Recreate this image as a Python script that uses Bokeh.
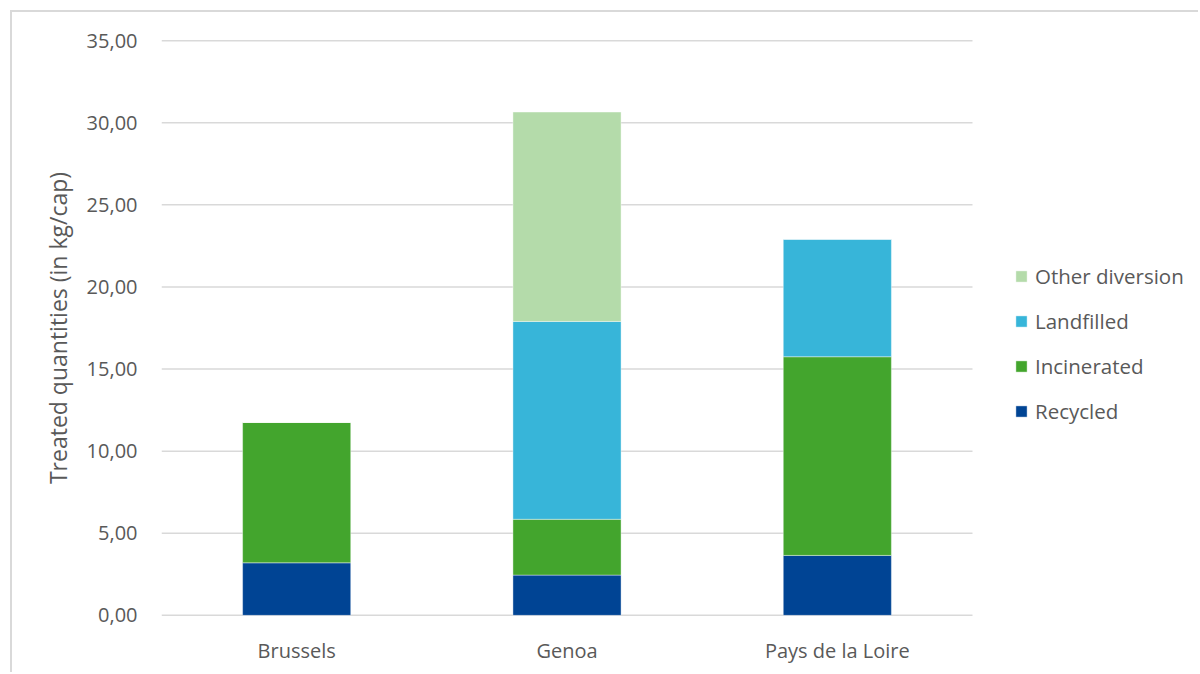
from bokeh.plotting import figure
from bokeh.models import ColumnDataSource, Range1d, Legend, LegendItem, CustomJSTickFormatter, FixedTicker
from bokeh.embed import file_html
from bokeh.resources import INLINE

cities = ["Brussels", "Genoa", "Pays de la Loire"]
recycled = [3.20, 2.45, 3.65]
incinerated = [8.55, 3.40, 12.10]
landfilled = [0.00, 12.05, 7.15]
other_diversion = [0.00, 12.75, 0.00]
y_ticks = [0, 5, 10, 15, 20, 25, 30, 35]

series = ["recycled", "incinerated", "landfilled", "other"]
labels = ["Recycled", "Incinerated", "Landfilled", "Other diversion"]
colors = ["#004494", "#43A52D", "#37B5D9", "#B4DBAA"]

xpos = [i + 0.5 for i in range(len(cities))]
source = ColumnDataSource(dict(x=xpos, city=cities, recycled=recycled, incinerated=incinerated,
                               landfilled=landfilled, other=other_diversion))

FONT = "Open Sans"
TXT = "#595959"
OFF = 10      # chart border offset in window
BW = 2        # border width
C = OFF + BW  # content origin in window

frame_left, frame_right = 161, 1200        # window px
cat_px = (972 - 161) / 3.0                 # pixels per category
x_end = (frame_right - frame_left) / cat_px

p = figure(width=1200 - C, height=674 - C,
           x_range=Range1d(0, x_end), y_range=Range1d(-0.07, 35.07),
           output_backend="svg", toolbar_location=None, margin=(OFF, 0, 0, OFF),
           styles={"border-left": f"{BW}px solid #D9D9D9", "border-top": f"{BW}px solid #D9D9D9"},
           min_border_left=frame_left - C, min_border_right=0, min_border_top=39 - C, min_border_bottom=58)
p.outline_line_color = None
p.background_fill_color = "white"
p.border_fill_color = "white"

# horizontal grid lines spanning only the category area
p.segment(x0=[0] * len(y_ticks), x1=[len(cities)] * len(y_ticks), y0=y_ticks, y1=y_ticks,
          line_color="#D9D9D9", line_width=1.5)

renderers = p.vbar_stack(series, x="x", width=0.4, source=source, color=colors,
                         line_color="white", line_alpha=0.4, line_width=1)

p.xgrid.grid_line_color = None
p.ygrid.grid_line_color = None
p.yaxis.ticker = y_ticks
p.yaxis.formatter = CustomJSTickFormatter(code="return tick.toFixed(2).replace('.', ',');")
p.xaxis.ticker = FixedTicker(ticks=xpos)
p.xaxis.major_label_overrides = {x: c for x, c in zip(xpos, cities)}

for ax in (p.xaxis[0], p.yaxis[0]):
    ax.axis_line_color = None
    ax.major_tick_line_color = None
    ax.minor_tick_line_color = None
    ax.major_tick_out = 0
    ax.major_tick_in = 0
    ax.major_label_text_font = FONT
    ax.major_label_text_font_size = "20px"
    ax.major_label_text_color = TXT

p.yaxis.major_label_standoff = 24
p.xaxis.major_label_standoff = 20
p.yaxis.axis_label = "Treated quantities (in kg/cap)"
p.yaxis.axis_label_text_font = FONT
p.yaxis.axis_label_text_font_size = "23px"
p.yaxis.axis_label_text_font_style = "normal"
p.yaxis.axis_label_text_color = TXT
p.yaxis.axis_label_standoff = 10

items = [LegendItem(label=labels[i], renderers=[renderers[i]]) for i in reversed(range(4))]
legend = Legend(items=items, location=(853, 191), orientation="vertical",
                glyph_width=14, glyph_height=14, label_height=20, spacing=17,
                label_standoff=7, padding=0, margin=0, border_line_color=None,
                background_fill_alpha=0,
                label_text_font=FONT, label_text_font_size="20.5px", label_text_color=TXT)
p.add_layout(legend, "center")

open("out.html", "w").write(file_html(p, INLINE))
